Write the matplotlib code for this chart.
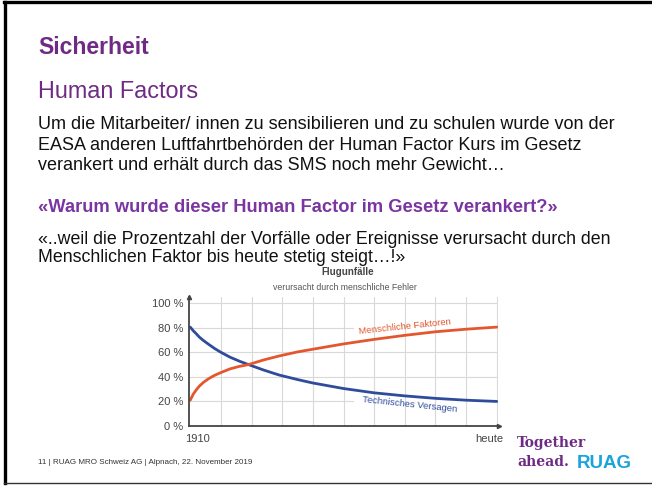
import numpy as np
import matplotlib.pyplot as plt
from matplotlib.lines import Line2D

plt.rcParams['font.family'] = ['Liberation Sans', 'DejaVu Sans']

# chart data (x: 0 = 1910, 1 = heute), values in percent
x_pos = [0.0, 0.01, 0.02, 0.03, 0.043, 0.06, 0.08, 0.1, 0.13, 0.16, 0.19, 0.24, 0.29,
         0.35, 0.4, 0.5, 0.6, 0.7, 0.8, 0.9, 1.0]
technisch = [80.5, 77.5, 75.0, 72.3, 69.6, 66.5, 63.0, 60.0, 56.0, 52.8, 50.0, 45.5, 41.5,
             37.8, 35.0, 30.5, 27.0, 24.5, 22.5, 21.0, 20.0]
menschlich = [21.0, 26.0, 29.5, 32.5, 35.5, 38.5, 41.3, 43.5, 46.5, 48.5, 50.0, 53.8, 57.0,
              60.3, 62.5, 66.8, 70.5, 73.8, 76.7, 78.8, 80.5]
y_ticks = [0, 20, 40, 60, 80, 100]
y_labels = ['0 %', '20 %', '40 %', '60 %', '80 %', '100 %']
x_labels = ['1910', 'heute']

W, H = 652, 488
purple = '#6f2a85'
red = '#e4572e'
blue = '#2f4c9b'
grid_c = '#d9d9d9'

fig = plt.figure(figsize=(W / 100, H / 100), dpi=100)

def P(x, y):
    return x / W, 1 - y / H

# slide border
fig.add_artist(Line2D([4.5 / W, 4.5 / W], [1 - 2 / H, 1 - 483 / H], color='black', lw=2.4))
fig.add_artist(Line2D([4 / W, 1], [1 - 2 / H, 1 - 2 / H], color='black', lw=2.4))
fig.add_artist(Line2D([4 / W, 1], [1 - 483 / H, 1 - 483 / H], color='#333333', lw=1.0))

# slide text
fig.text(*P(38, 48), 'Sicherheit', color=purple, fontsize=16.5, fontweight='bold', va='center')
fig.text(*P(38, 91), 'Human Factors', color=purple, fontsize=16.8, va='center')
body = ['Um die Mitarbeiter/ innen zu sensibilieren und zu schulen wurde von der',
        'EASA anderen Luftfahrtbehörden der Human Factor Kurs im Gesetz',
        'verankert und erhält durch das SMS noch mehr Gewicht…']
for i, line in enumerate(body):
    fig.text(*P(38, 125 + 20.5 * i), line, color='#111111', fontsize=12.95, va='center')
fig.text(*P(38, 208), '«Warum wurde dieser Human Factor im Gesetz verankert?»',
         color='#7a35a0', fontsize=13.25, fontweight='bold', va='center')
fig.text(*P(38, 239), '«..weil die Prozentzahl der Vorfälle oder Ereignisse verursacht durch den',
         color='#111111', fontsize=12.8, va='center')
fig.text(*P(38, 258), 'Menschlichen Faktor bis heute stetig steigt…!»',
         color='#111111', fontsize=12.8, va='center')
fig.text(*P(38, 463), '11 | RUAG MRO Schweiz AG | Alpnach, 22. November 2019',
         color='#333333', fontsize=5.8, va='center')

# logo
fig.text(*P(517, 443), 'Together', color=purple, fontsize=10, fontweight='bold',
         family='DejaVu Serif', va='center')
fig.text(*P(517, 462), 'ahead.', color=purple, fontsize=10, fontweight='bold',
         family='DejaVu Serif', va='center')
fig.text(*P(577, 464), 'RUAG', color='#1aa3dc', fontsize=13.5, fontweight='bold', va='center')

# chart
x0, x1 = 189, 498
y0, y1 = 426, 297
ax = fig.add_axes([x0 / W, 1 - y0 / H, (x1 - x0) / W, (y0 - y1) / H])
ax.set_xlim(-0.004, 1.004)
ax.set_ylim(0, 105)

for gx in np.arange(0.1, 1.01, 0.1):
    ax.axvline(gx, color=grid_c, lw=0.8, zorder=0)
for gy in [40, 60, 100]:
    ax.axhline(gy, color=grid_c, lw=0.8, zorder=0)
ax.plot([0, 0.53], [20, 20], color=grid_c, lw=0.8, zorder=0)
ax.plot([0, 0.53], [80, 80], color=grid_c, lw=0.8, zorder=0)

ax.plot(x_pos, technisch, color=blue, lw=2.0, solid_capstyle='round')
ax.plot(x_pos, menschlich, color=red, lw=2.0, solid_capstyle='round')

ax.text(0.70, 81, 'Menschliche Faktoren', color=red, fontsize=6.8, rotation=6,
        ha='center', va='center')
ax.text(0.715, 17.5, 'Technisches Versagen', color=blue, fontsize=6.8, rotation=-6,
        ha='center', va='center')

for s in ['top', 'right']:
    ax.spines[s].set_visible(False)
for s in ['left', 'bottom']:
    ax.spines[s].set_color('#444444')
    ax.spines[s].set_linewidth(1.3)
ax.plot(1.004, 0, '>', color='#444444', ms=3, transform=ax.get_yaxis_transform(), clip_on=False)
ax.plot(-0.004, 1, '^', color='#444444', ms=3, transform=ax.get_xaxis_transform(), clip_on=False)

ax.set_yticks(y_ticks)
ax.set_yticklabels(y_labels)
ax.set_xticks([0.025, 0.975])
ax.set_xticklabels(x_labels)
ax.tick_params(length=0, labelsize=8, colors='#444444', pad=4)
ax.tick_params(axis='x', pad=6)
ax.set_facecolor('none')

fig.text(*P(348, 272), 'Flugunfälle', color='#444444', fontsize=7, fontweight='bold',
         ha='center', va='center')
fig.text(*P(345, 288), 'verursacht durch menschliche Fehler', color='#555555', fontsize=6.3,
         ha='center', va='center')

fig.savefig('out.png', dpi=100)
